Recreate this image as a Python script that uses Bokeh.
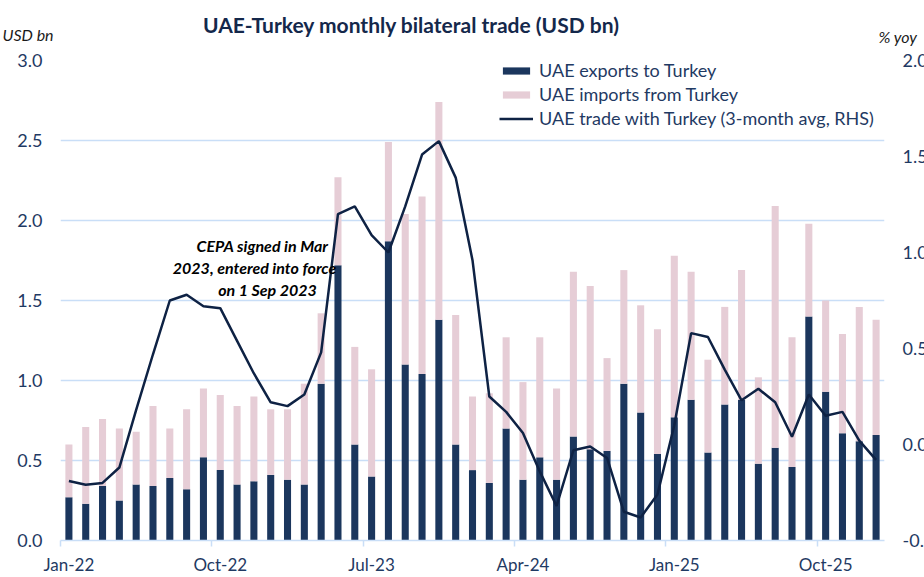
from bokeh.plotting import figure
from bokeh.layouts import column
from bokeh.models import (Range1d, LinearAxis, FixedTicker, Label, Legend, LegendItem,
                          ColumnDataSource, NumeralTickFormatter)
from bokeh.embed import file_html
from bokeh.resources import INLINE

months = ["Jan-22", "Feb-22", "Mar-22", "Apr-22", "May-22", "Jun-22", "Jul-22", "Aug-22", "Sep-22",
          "Oct-22", "Nov-22", "Dec-22", "Jan-23", "Feb-23", "Mar-23", "Apr-23", "May-23", "Jun-23",
          "Jul-23", "Aug-23", "Sep-23", "Oct-23", "Nov-23", "Dec-23", "Jan-24", "Feb-24", "Mar-24",
          "Apr-24", "May-24", "Jun-24", "Jul-24", "Aug-24", "Sep-24", "Oct-24", "Nov-24", "Dec-24",
          "Jan-25", "Feb-25", "Mar-25", "Apr-25", "May-25", "Jun-25", "Jul-25", "Aug-25", "Sep-25",
          "Oct-25", "Nov-25", "Dec-25", "Jan-26"]

exports = [0.27, 0.23, 0.34, 0.25, 0.35, 0.34, 0.39, 0.32, 0.52, 0.44, 0.35, 0.37, 0.41, 0.38,
           0.35, 0.98, 1.72, 0.60, 0.40, 1.87, 1.10, 1.04, 1.38, 0.60, 0.44, 0.36, 0.70, 0.38,
           0.52, 0.38, 0.65, 0.57, 0.56, 0.98, 0.80, 0.54, 0.77, 0.88, 0.55, 0.85, 0.88, 0.48,
           0.58, 0.46, 1.40, 0.93, 0.67, 0.62, 0.66]

imports = [0.33, 0.48, 0.42, 0.45, 0.33, 0.50, 0.31, 0.50, 0.43, 0.47, 0.49, 0.53, 0.41, 0.44,
           0.63, 0.44, 0.55, 0.61, 0.67, 0.62, 0.94, 1.11, 1.36, 0.81, 0.46, 0.56, 0.57, 0.61,
           0.75, 0.57, 1.03, 1.02, 0.58, 0.71, 0.67, 0.78, 1.01, 0.80, 0.58, 0.61, 0.81, 0.54,
           1.51, 0.81, 0.58, 0.57, 0.62, 0.84, 0.72]

trade_3m_avg = [-0.19, -0.21, -0.20, -0.12, 0.18, 0.47, 0.75, 0.78, 0.72, 0.71, 0.54, 0.37, 0.22,
                0.20, 0.26, 0.48, 1.20, 1.24, 1.09, 1.00, 1.24, 1.51, 1.58, 1.39, 0.96, 0.25,
                0.17, 0.06, -0.14, -0.32, -0.03, -0.01, -0.07, -0.35, -0.38, -0.26, 0.10, 0.58,
                0.56, 0.39, 0.23, 0.29, 0.22, 0.04, 0.26, 0.15, 0.17, 0.02, -0.08]

label_months = [0, 9, 18, 27, 36, 45]
left_ticks = [0.0, 0.5, 1.0, 1.5, 2.0, 2.5, 3.0]
right_ticks = [-0.5, 0.0, 0.5, 1.0, 1.5, 2.0]

NAVY = "#1B365D"
PINK = "#E6CDD6"
LINE = "#0E2244"
TXT = "#1F3A63"
GRID = "#C9DEF7"
FONT = "Lato"
W = 922
HEAD_H = 48

# ---------- header (title and unit labels) ----------
head = figure(width=W, height=HEAD_H, x_range=Range1d(0, W), y_range=Range1d(0, HEAD_H),
              output_backend="svg", toolbar_location=None, x_axis_type=None, y_axis_type=None,
              min_border=0)
head.frame_align = False
head.outline_line_color = None
head.grid.visible = False
head.add_layout(Label(x=411, y=HEAD_H - 24, text="UAE-Turkey monthly bilateral trade (USD bn)",
                      text_align="center", text_baseline="middle", text_font=FONT,
                      text_font_style="bold", text_font_size="21px", text_color="#14284B"))
head.add_layout(Label(x=2, y=HEAD_H - 34, text="USD bn", text_align="left",
                      text_baseline="middle", text_font=FONT, text_font_style="italic",
                      text_font_size="16px", text_color="#1A1A1A"))
head.add_layout(Label(x=878, y=HEAD_H - 36, text="% yoy", text_align="left",
                      text_baseline="middle", text_font=FONT, text_font_style="italic",
                      text_font_size="16px", text_color="#1A1A1A"))

# ---------- main chart ----------
src = ColumnDataSource(dict(x=list(range(len(months))), exports=exports, imports=imports,
                            trade=trade_3m_avg))

p = figure(frame_width=824, frame_height=480, x_range=Range1d(-0.5, len(months) - 0.5),
           y_range=Range1d(0, 3), output_backend="svg", toolbar_location=None,
           min_border_left=60, min_border_right=38, min_border_top=12, min_border_bottom=36)
p.frame_align = False
p.outline_line_color = None
p.background_fill_color = "white"
p.border_fill_color = "white"
p.extra_y_ranges = {"rhs": Range1d(-0.5, 2.0)}

bars = p.vbar_stack(["exports", "imports"], x="x", width=0.42, color=[NAVY, PINK], source=src,
                    line_color=None)
ln = p.line("x", "trade", source=src, y_range_name="rhs", line_color=LINE, line_width=2.5)

# x axis
xa = p.xaxis[0]
xa.ticker = FixedTicker(ticks=label_months, minor_ticks=[m - 0.5 for m in label_months])
xa.major_label_overrides = {m: months[m] for m in label_months}
xa.major_tick_line_color = None
xa.major_tick_out = 0
xa.major_tick_in = 0
xa.minor_tick_out = 6
xa.minor_tick_in = 0
xa.minor_tick_line_color = GRID
xa.minor_tick_line_width = 1.5
xa.axis_line_color = GRID
xa.axis_line_width = 1.5
xa.major_label_standoff = 7
xa.major_label_text_font = FONT
xa.major_label_text_font_size = "17px"
xa.major_label_text_color = TXT

# left axis
ya = p.yaxis[0]
ya.ticker = FixedTicker(ticks=left_ticks)
ya.formatter = NumeralTickFormatter(format="0.0")
ya.axis_line_color = None
ya.major_tick_line_color = None
ya.major_tick_out = 0
ya.major_tick_in = 0
ya.minor_tick_line_color = None
ya.major_label_standoff = 18
ya.major_label_text_font = FONT
ya.major_label_text_font_size = "18px"
ya.major_label_text_color = TXT

# right axis
ra = LinearAxis(y_range_name="rhs", ticker=FixedTicker(ticks=right_ticks),
                formatter=NumeralTickFormatter(format="0.0"))
ra.axis_line_color = None
ra.major_tick_line_color = None
ra.major_tick_out = 0
ra.major_tick_in = 0
ra.minor_tick_line_color = None
ra.major_label_standoff = 18
ra.major_label_text_font = FONT
ra.major_label_text_font_size = "18px"
ra.major_label_text_color = TXT
p.add_layout(ra, "right")

p.xgrid.grid_line_color = None
p.ygrid.ticker = FixedTicker(ticks=left_ticks[1:])
p.ygrid.grid_line_color = GRID
p.ygrid.grid_line_width = 1.5

legend = Legend(items=[LegendItem(label="UAE exports to Turkey", renderers=[bars[0]]),
                       LegendItem(label="UAE imports from Turkey", renderers=[bars[1]]),
                       LegendItem(label="UAE trade with Turkey (3-month avg, RHS)", renderers=[ln])],
                location=(439, 411), glyph_width=34, glyph_height=9, label_standoff=6,
                label_text_font=FONT, label_text_font_size="18px", label_text_color=TXT,
                label_height=21, spacing=2, padding=0, margin=0, border_line_color=None,
                background_fill_alpha=0)
p.add_layout(legend)

notes = [("CEPA signed in Mar", 202, 295), ("2023, entered into force", 194, 273),
         ("on 1 Sep 2023", 207, 251)]
for t, nx, ny in notes:
    p.add_layout(Label(x=nx, y=ny, x_units="screen", y_units="screen", text=t,
                       text_align="center", text_baseline="middle", text_font=FONT,
                       text_font_style="bold italic", text_font_size="16px", text_color="black"))

layout = column(head, p, spacing=0)
open("out.html", "w").write(file_html(layout, INLINE))
